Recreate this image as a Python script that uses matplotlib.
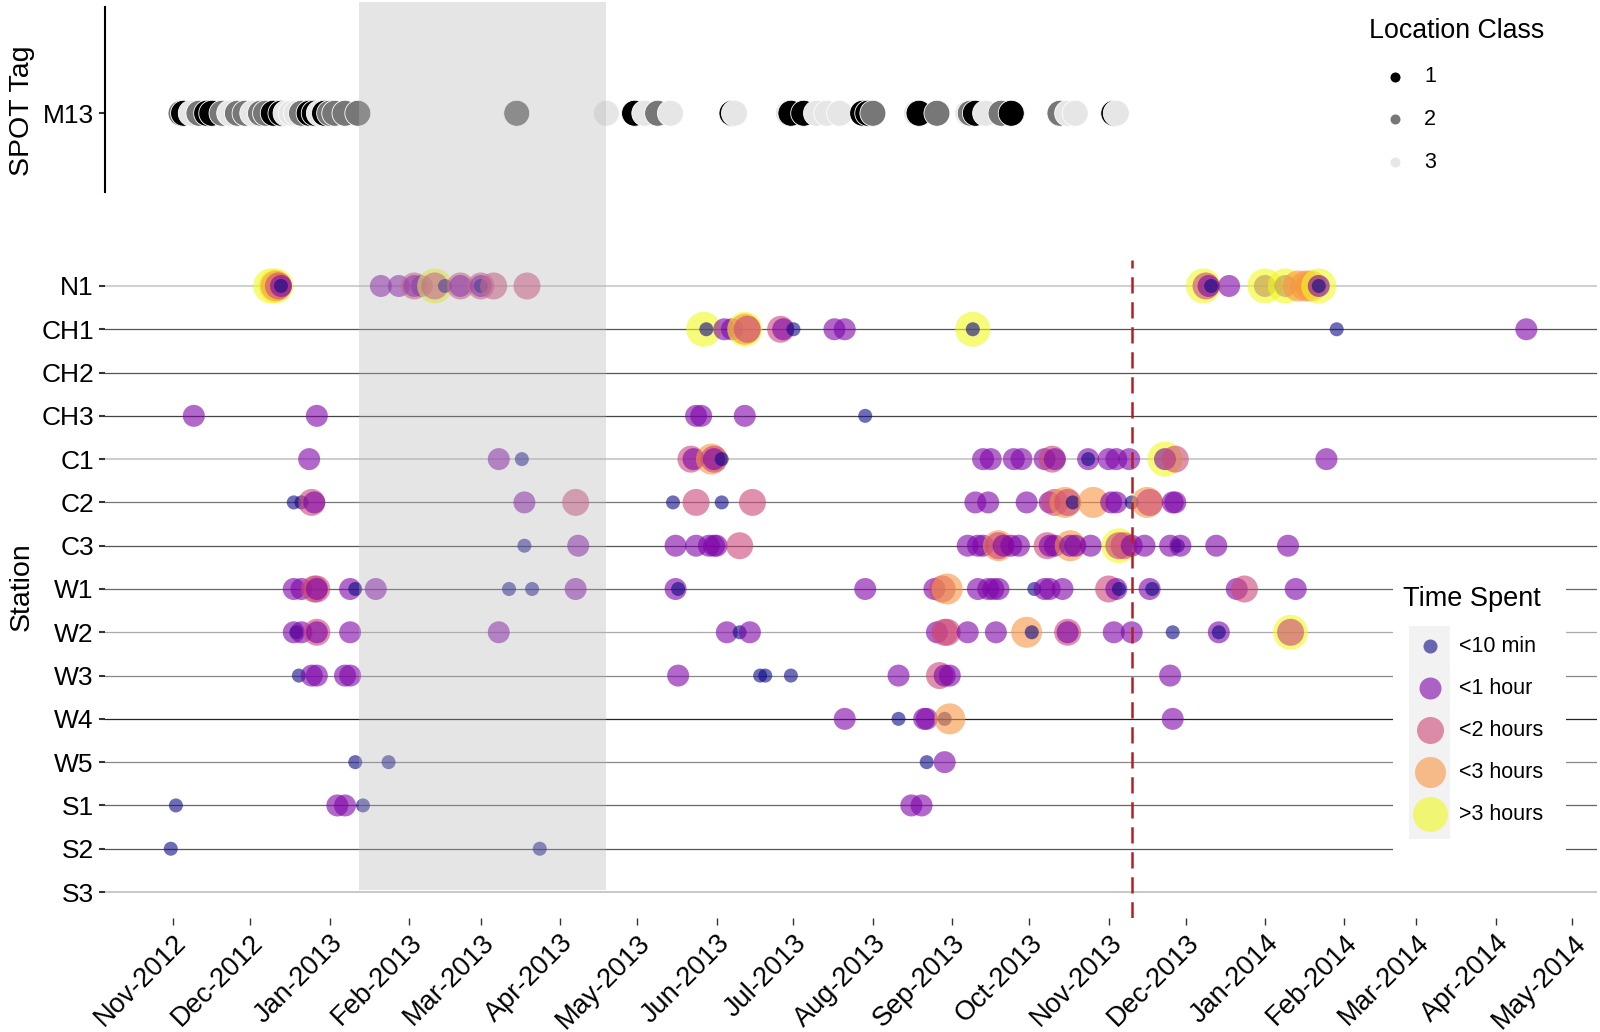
import matplotlib
matplotlib.use('Agg')
import matplotlib.pyplot as plt
import matplotlib.dates as mdates
from matplotlib.patches import Rectangle
import numpy as np
import pandas as pd

plt.rcParams['font.family'] = ['Liberation Sans', 'DejaVu Sans']

# ---- SPOT tag fixes (M13), location class 1/2/3 ----
m13_dates = ['2012-11-04', '2012-11-05', '2012-11-08', '2012-11-11', '2012-11-14', '2012-11-16',
             '2012-11-20', '2012-11-23', '2012-11-26', '2012-11-29', '2012-12-02', '2012-12-05',
             '2012-12-07', '2012-12-10', '2012-12-13', '2012-12-15', '2012-12-17', '2012-12-19',
             '2012-12-21', '2012-12-24', '2012-12-26', '2012-12-28', '2012-12-30', '2013-01-01',
             '2013-01-03', '2013-01-07', '2013-01-12', '2013-03-15', '2013-04-19', '2013-04-30',
             '2013-05-04', '2013-05-09', '2013-05-14', '2013-06-07', '2013-06-08', '2013-06-29',
             '2013-06-30', '2013-07-05', '2013-07-10', '2013-07-14', '2013-07-19', '2013-07-28',
             '2013-07-30', '2013-08-01', '2013-08-18', '2013-08-19', '2013-08-26', '2013-09-07',
             '2013-09-08', '2013-09-10', '2013-09-14', '2013-09-20', '2013-09-24', '2013-10-13',
             '2013-10-16', '2013-10-19', '2013-11-03', '2013-11-04']
m13_class = [2, 1, 3, 2, 1, 1,
             2, 3, 2, 2, 3, 2,
             2, 1, 1, 3, 3, 3,
             2, 1, 1, 3, 1, 2,
             2, 2, 2, 2, 3, 1,
             3, 2, 3, 1, 3, 3,
             1, 1, 3, 3, 3, 1,
             1, 2, 3, 1, 2, 3,
             2, 1, 3, 2, 1, 2,
             3, 3, 1, 3]

# ---- acoustic detections per station, time spent class 0..4 ----
station_names = ['N1', 'CH1', 'CH2', 'CH3', 'C1', 'C2', 'C3', 'W1', 'W2', 'W3', 'W4', 'W5', 'S1', 'S2', 'S3']

n1_dates = ['2012-12-09', '2012-12-11', '2012-12-11', '2012-12-12', '2012-12-13', '2012-12-13',
            '2013-01-21', '2013-01-28', '2013-02-03', '2013-02-03', '2013-02-06', '2013-02-11',
            '2013-02-11', '2013-02-15', '2013-02-21', '2013-02-21', '2013-03-01', '2013-03-01',
            '2013-03-01', '2013-03-06', '2013-03-19', '2013-12-08', '2013-12-09', '2013-12-10',
            '2013-12-11', '2013-12-18', '2014-01-01', '2014-01-01', '2014-01-09', '2014-01-09',
            '2014-01-14', '2014-01-17', '2014-01-19', '2014-01-22', '2014-01-22', '2014-01-22']
n1_time = [4, 4, 3, 2, 1, 0,
           1, 1, 2, 1, 1, 4,
           2, 0, 2, 1, 2, 1,
           0, 2, 2, 4, 2, 1,
           0, 1, 1, 4, 1, 4,
           3, 3, 3, 4, 1, 0]

ch1_dates = ['2013-05-27', '2013-05-28', '2013-06-04', '2013-06-07', '2013-06-12', '2013-06-12',
             '2013-06-13', '2013-06-26', '2013-06-27', '2013-07-01', '2013-07-17', '2013-07-21',
             '2013-09-09', '2013-09-09', '2014-01-29', '2014-04-13']
ch1_time = [4, 0, 1, 1, 4, 3,
            2, 2, 1, 0, 1, 1,
            4, 0, 0, 1]

ch2_dates = []
ch2_time = []

ch3_dates = ['2012-11-09', '2012-12-27', '2013-05-24', '2013-05-26', '2013-06-12', '2013-07-29']
ch3_time = [1, 1, 1, 1, 1, 0]

c1_dates = ['2012-12-24', '2013-03-08', '2013-03-17', '2013-05-22', '2013-05-23', '2013-05-30',
            '2013-05-31', '2013-05-31', '2013-06-03', '2013-09-13', '2013-09-16', '2013-09-25',
            '2013-09-28', '2013-10-07', '2013-10-10', '2013-10-11', '2013-10-24', '2013-10-24',
            '2013-11-01', '2013-11-04', '2013-11-09', '2013-11-23', '2013-11-23', '2013-11-27',
            '2014-01-25']
c1_time = [1, 1, 0, 2, 1, 3,
           2, 1, 0, 1, 1, 1,
           1, 1, 2, 1, 1, 0,
           1, 1, 1, 4, 1, 2,
           1]

c2_dates = ['2012-12-18', '2012-12-21', '2012-12-25', '2012-12-26', '2013-03-18', '2013-04-07',
            '2013-05-15', '2013-05-24', '2013-06-03', '2013-06-15', '2013-09-10', '2013-09-15',
            '2013-09-30', '2013-10-09', '2013-10-11', '2013-10-15', '2013-10-16', '2013-10-18',
            '2013-10-26', '2013-11-02', '2013-11-04', '2013-11-10', '2013-11-16', '2013-11-17',
            '2013-11-26', '2013-11-27']
c2_time = [0, 0, 2, 1, 1, 2,
           0, 2, 0, 2, 1, 1,
           1, 1, 2, 3, 2, 0,
           3, 1, 1, 0, 3, 2,
           1, 1]

c3_dates = ['2013-03-18', '2013-04-08', '2013-05-16', '2013-05-24', '2013-05-29', '2013-05-31',
            '2013-06-01', '2013-06-10', '2013-09-07', '2013-09-11', '2013-09-13', '2013-09-19',
            '2013-09-19', '2013-09-21', '2013-09-24', '2013-09-27', '2013-10-08', '2013-10-09',
            '2013-10-11', '2013-10-17', '2013-10-17', '2013-10-19', '2013-10-25', '2013-11-05',
            '2013-11-05', '2013-11-07', '2013-11-10', '2013-11-15', '2013-11-25', '2013-11-28',
            '2013-11-29', '2013-12-13', '2014-01-10']
c3_time = [0, 1, 1, 1, 1, 1,
           1, 2, 1, 1, 1, 3,
           2, 1, 1, 1, 2, 1,
           1, 3, 1, 1, 1, 4,
           2, 2, 1, 1, 1, 0,
           1, 1, 1]

w1_dates = ['2012-12-18', '2012-12-21', '2012-12-26', '2012-12-27', '2012-12-27', '2013-01-09',
            '2013-01-11', '2013-01-19', '2013-03-12', '2013-03-21', '2013-04-07', '2013-05-16',
            '2013-05-17', '2013-07-29', '2013-08-25', '2013-08-28', '2013-08-30', '2013-09-11',
            '2013-09-15', '2013-09-17', '2013-09-19', '2013-10-03', '2013-10-07', '2013-10-09',
            '2013-10-14', '2013-11-01', '2013-11-04', '2013-11-05', '2013-11-17', '2013-11-18',
            '2013-12-21', '2013-12-24', '2014-01-13']
w1_time = [1, 1, 2, 2, 1, 1,
           0, 1, 0, 0, 1, 1,
           0, 1, 1, 2, 3, 1,
           1, 1, 1, 0, 1, 1,
           1, 2, 1, 0, 1, 0,
           1, 2, 1]

w2_dates = ['2012-12-18', '2012-12-19', '2012-12-21', '2012-12-27', '2012-12-27', '2013-01-09',
            '2013-03-08', '2013-06-05', '2013-06-10', '2013-06-14', '2013-08-26', '2013-08-29',
            '2013-08-30', '2013-09-07', '2013-09-18', '2013-09-30', '2013-10-02', '2013-10-16',
            '2013-10-16', '2013-11-03', '2013-11-10', '2013-11-26', '2013-12-14', '2013-12-14',
            '2014-01-11', '2014-01-11']
w2_time = [1, 0, 1, 2, 1, 1,
           1, 1, 0, 1, 1, 2,
           2, 1, 1, 3, 0, 2,
           1, 1, 1, 0, 1, 0,
           4, 2]

w3_dates = ['2012-12-20', '2012-12-25', '2012-12-27', '2013-01-07', '2013-01-09', '2013-05-17',
            '2013-06-18', '2013-06-20', '2013-06-30', '2013-08-11', '2013-08-27', '2013-08-29',
            '2013-08-31', '2013-11-25']
w3_time = [0, 1, 1, 1, 1, 1,
           0, 0, 0, 1, 2, 1,
           1, 1]

w4_dates = ['2013-07-21', '2013-08-11', '2013-08-21', '2013-08-22', '2013-08-29', '2013-08-31',
            '2013-11-26']
w4_time = [1, 0, 1, 1, 0, 3, 1]

w5_dates = ['2013-01-11', '2013-01-24', '2013-08-22', '2013-08-29']
w5_time = [0, 0, 0, 1]

s1_dates = ['2012-11-02', '2013-01-04', '2013-01-07', '2013-01-14', '2013-08-16', '2013-08-20']
s1_time = [0, 1, 1, 0, 1, 1]

s2_dates = ['2012-10-31', '2013-03-24']
s2_time = [0, 0]

s3_dates = []
s3_time = []

station_dates = [n1_dates, ch1_dates, ch2_dates, ch3_dates, c1_dates, c2_dates, c3_dates,
                 w1_dates, w2_dates, w3_dates, w4_dates, w5_dates, s1_dates, s2_dates, s3_dates]
station_time = [n1_time, ch1_time, ch2_time, ch3_time, c1_time, c2_time, c3_time,
                w1_time, w2_time, w3_time, w4_time, w5_time, s1_time, s2_time, s3_time]

time_labels = ['<10 min', '<1 hour', '<2 hours', '<3 hours', '>3 hours']
class_labels = ['1', '2', '3']

shade_start = '2013-01-12 12:00'
shade_end = '2013-04-19 00:00'
event_date = '2013-11-10'

# ---- styles ----
time_sizes = [102, 251, 378, 498, 635]
time_colors = [plt.get_cmap('plasma')(v) for v in np.linspace(0, 1, 5)]
class_colors = ['#000000', '#777777', '#e6e6e6']
row_line_colors = ['#cccccc', '#555555', '#555555', '#444444', '#c8c8c8', '#777777', '#555555',
                   '#666666', '#aaaaaa', '#888888', '#222222', '#888888', '#666666', '#555555', '#c4c4c4']
xmin = pd.Timestamp('2012-10-05 08:00')
xmax = pd.Timestamp('2014-05-10 14:00')

W, H = 1600, 1032


def box(left, top, right, bottom):
    return [left / W, 1 - bottom / H, (right - left) / W, (bottom - top) / H]


fig = plt.figure(figsize=(16, 10.32), dpi=100)

# ---- top panel: SPOT tag ----
ax_top = fig.add_axes(box(105, 6.7, 1597, 191.7))
md = pd.to_datetime(m13_dates).to_numpy()
ax_top.scatter(md, np.zeros(len(md)), s=350, c=[class_colors[k - 1] for k in m13_class],
               edgecolors='white', linewidths=0.6, zorder=3)
ax_top.set_xlim(xmin, xmax)
ax_top.set_ylim(-0.424, 0.576)
ax_top.set_xticks([])
ax_top.set_yticks([0])
ax_top.set_yticklabels(['M13'], fontsize=19)
ax_top.tick_params(axis='y', length=4.5, width=1.5, color='#333333', pad=3.5)
for s in ['top', 'right', 'bottom']:
    ax_top.spines[s].set_visible(False)
ax_top.spines['left'].set_linewidth(1.5)
ax_top.set_ylabel('SPOT Tag', fontsize=20.5)
ax_top.yaxis.set_label_coords(-0.047, 0.44)

# ---- bottom panel: stations ----
ax = fig.add_axes(box(105, 260, 1597, 918))
for i, name in enumerate(station_names):
    lw = 1.3 if row_line_colors[i] in ('#cccccc', '#c8c8c8', '#c4c4c4') else 0.9
    ax.axhline(i, color=row_line_colors[i], lw=lw, zorder=1)

all_x, all_y, all_s, all_c = [], [], [], []
for i in range(len(station_names)):
    for d, t in zip(station_dates[i], station_time[i]):
        all_x.append(pd.Timestamp(d))
        all_y.append(i)
        all_s.append(time_sizes[t])
        all_c.append(time_colors[t])
ax.scatter(pd.to_datetime(all_x).to_numpy(), all_y, s=all_s, c=all_c, alpha=0.6,
           linewidths=0, zorder=3)

ax.axvline(pd.Timestamp(event_date), color='#b41f24', lw=1.8, dashes=(6.5, 3.5), zorder=4)

ax.set_xlim(xmin, xmax)
ax.set_ylim(len(station_names) - 0.4, -0.6)
ax.set_yticks(range(len(station_names)))
ax.set_yticklabels(station_names, fontsize=19)
ax.tick_params(axis='y', length=4.5, width=1.5, color='#333333', pad=3.5)
ax.xaxis.set_major_locator(mdates.MonthLocator())
ax.xaxis.set_major_formatter(mdates.DateFormatter('%b-%Y'))
ax.tick_params(axis='x', length=5, width=1, color='#333333', pad=3.5, labelsize=19.5)
for lab in ax.get_xticklabels():
    lab.set_rotation(45)
    lab.set_ha('right')
    lab.set_va('top')
    lab.set_rotation_mode('anchor')
for s in ax.spines.values():
    s.set_visible(False)
ax.set_ylabel('Station', fontsize=20.5)
ax.yaxis.set_label_coords(-0.047, 0.503)

# ---- shaded period spanning both panels ----
ax_sh = fig.add_axes(box(105, 2, 1597, 890))
ax_sh.axvspan(pd.Timestamp(shade_start), pd.Timestamp(shade_end), color='#b5b5b5', alpha=0.34, lw=0)
ax_sh.set_xlim(xmin, xmax)
ax_sh.axis('off')

# ---- legend: location class ----
lg1 = fig.add_axes(box(1360, 5, 1560, 185))
lg1.set_xlim(1360, 1560)
lg1.set_ylim(185, 5)
lg1.axis('off')
lg1.text(1369, 31, 'Location Class', fontsize=19.3, va='center', ha='left')
for k, lab in enumerate(class_labels):
    yy = 76.5 + k * 42.75
    lg1.scatter([1395], [yy], s=52, color=class_colors[k], linewidths=0)
    lg1.text(1424, yy, lab, fontsize=15.5, va='center', ha='left')

# ---- legend: time spent ----
lg2 = fig.add_axes(box(1393, 560, 1566, 860))
lg2.set_xlim(1393, 1566)
lg2.set_ylim(860, 560)
lg2.set_xticks([])
lg2.set_yticks([])
for s in lg2.spines.values():
    s.set_visible(False)
lg2.set_facecolor('white')
lg2.add_patch(Rectangle((1409, 626), 41, 213, facecolor='#f2f2f2', edgecolor='none'))
lg2.text(1403, 599, 'Time Spent', fontsize=19.5, va='center', ha='left')
for k, lab in enumerate(time_labels):
    yy = 646 + k * 42
    lg2.scatter([1430], [yy], s=time_sizes[k], color=time_colors[k], alpha=0.6, linewidths=0)
    lg2.text(1459, yy, lab, fontsize=15.5, va='center', ha='left')

fig.savefig('out.png', dpi=100)
